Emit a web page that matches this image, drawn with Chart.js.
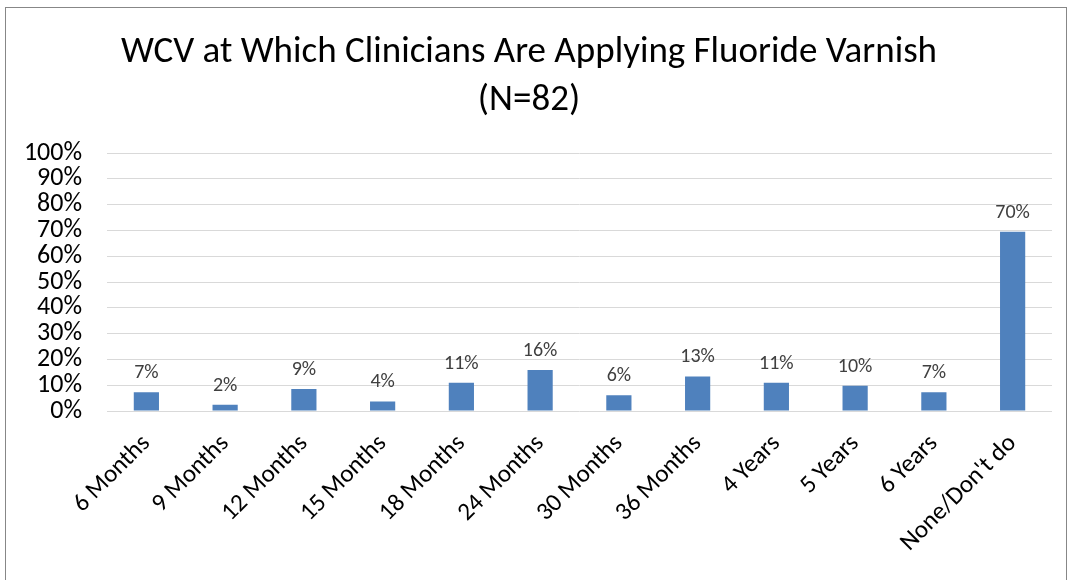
<!DOCTYPE html>
<html>
<head>
<meta charset="utf-8">
<script src="https://cdn.jsdelivr.net/npm/chart.js@4"></script>
<style>
  body { margin: 0; background: #fff; }
  #box { position: absolute; left: 5px; top: 7px; width: 1060px; height: 600px; border: 1px solid #878787; }
  #wrap { position: relative; width: 1059px; height: 572px; }
</style>
</head>
<body>
<div id="box"><div id="wrap"><canvas id="chart"></canvas></div></div>
<script>
const categories = ['6 Months', '9 Months', '12 Months', '15 Months', '18 Months', '24 Months',
  '30 Months', '36 Months', '4 Years', '5 Years', '6 Years', "None/Don't do"];
const percents = [7.3, 2.4, 8.5, 3.7, 11.0, 15.9, 6.1, 13.4, 11.0, 9.8, 7.3, 69.5];
const titleLines = ['WCV at Which Clinicians Are Applying Fluoride Varnish', '(N=82)'];

const fontFamily = "Carlito, Calibri, Lato, sans-serif";

// labels above the bars
const barLabels = {
  id: 'barLabels',
  afterDatasetsDraw(chart) {
    const c = chart.ctx;
    const meta = chart.getDatasetMeta(0);
    c.save();
    c.font = '20px ' + fontFamily;
    c.fillStyle = '#404040';
    c.textAlign = 'center';
    c.textBaseline = 'bottom';
    meta.data.forEach((bar, i) => {
      c.fillText(Math.round(percents[i]) + '%', bar.x, bar.y - 9);
    });
    c.restore();
  }
};

new Chart(document.getElementById('chart'), {
  type: 'bar',
  data: {
    labels: categories,
    datasets: [{
      data: percents,
      backgroundColor: '#4f81bd',
      borderWidth: 0,
      barPercentage: 0.32,
      categoryPercentage: 1
    }]
  },
  options: {
    responsive: true,
    maintainAspectRatio: false,
    animation: false,
    layout: { padding: { left: 0, right: 13, top: 0, bottom: 0 } },
    plugins: {
      legend: { display: false },
      tooltip: { enabled: false },
      title: {
        display: true,
        text: titleLines,
        color: '#000',
        font: { family: fontFamily, size: 37, weight: 'normal', lineHeight: 1.3 },
        padding: { top: 21, bottom: 28 }
      }
    },
    scales: {
      x: {
        grid: { display: false },
        border: { display: false },
        ticks: {
          color: '#000',
          font: { family: fontFamily, size: 25 },
          maxRotation: 45,
          minRotation: 45,
          padding: 10,
          autoSkip: false
        },
        afterFit(scale) { scale.height = 169; }
      },
      y: {
        min: 0,
        max: 100,
        grid: { color: '#d9d9d9', lineWidth: 1, drawTicks: false },
        border: { display: false },
        ticks: {
          stepSize: 10,
          autoSkip: false,
          color: '#000',
          font: { family: fontFamily, size: 26 },
          padding: 25,
          callback: v => v + '%'
        },
        afterFit(scale) { scale.width = 101; }
      }
    }
  },
  plugins: [barLabels]
});
</script>
</body>
</html>
